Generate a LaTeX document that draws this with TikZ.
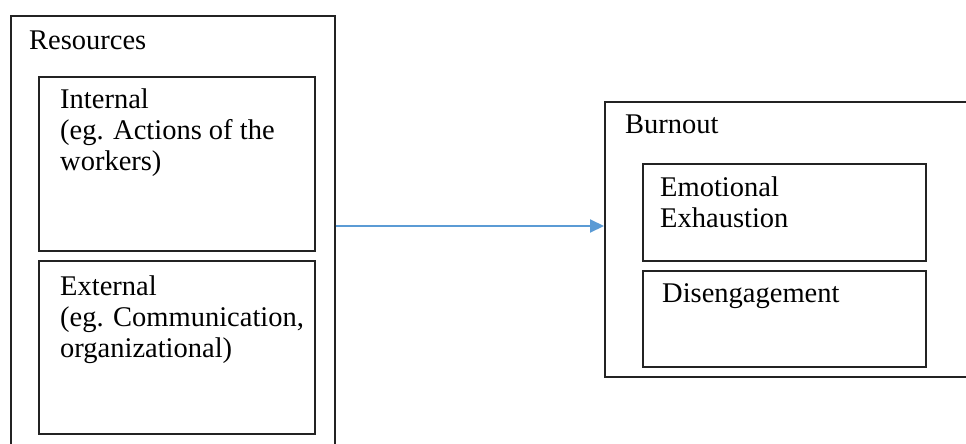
\documentclass[tikz,border=0pt]{standalone}
\usepackage{fontspec}
\setmainfont{Liberation Serif}
\usetikzlibrary{arrows.meta}
\definecolor{arrowblue}{RGB}{91,155,213}
\definecolor{framegray}{RGB}{35,35,35}
\begin{document}
\begin{tikzpicture}[x=1pt,y=-1pt,
  box/.style={draw=framegray, line width=1.6pt, rectangle, inner sep=0pt, anchor=north west},
  txt/.style={inner sep=0pt, align=left, font=\fontsize{28.5}{31}\selectfont, text=black},
  link/.style={draw=arrowblue, line width=2pt, -{Triangle[length=14pt,width=13pt]}}]
\useasboundingbox (0,0) rectangle (966,444);
\fill[white] (0,0) rectangle (966,444);

% Resources group
\node[box, minimum width=324pt, minimum height=460pt] (res) at (10,15) {};
\node[box, minimum width=276pt, minimum height=174pt] (int) at (38,76) {};
\node[box, minimum width=276pt, minimum height=173pt] (ext) at (38,260) {};
\node[txt, anchor=base west] (tres) at (29,49) {Resources};
\node[txt, anchor=north west] (tint) at (60,88.5) {Internal\\(eg. Actions of the\\workers)};
\node[txt, anchor=north west] (text) at (60,275.5) {External\\(eg. Communication,\\organizational)};

% Burnout group
\node[box, minimum width=380pt, minimum height=275pt] (burn) at (604,101) {};
\node[box, minimum width=283pt, minimum height=97pt] (emo) at (642,163) {};
\node[box, minimum width=283pt, minimum height=96pt] (dis) at (642,270) {};
\node[txt, anchor=base west] (tburn) at (625,133) {Burnout};
\node[txt, anchor=north west] (temo) at (660,176.5) {Emotional\\Exhaustion};
\node[txt, anchor=base west] (tdis) at (662,302) {Disengagement};

% Connector
\coordinate (mid) at (400,226);
\draw[link] (res.east |- mid) -- (burn.west |- mid);
\end{tikzpicture}
\end{document}
